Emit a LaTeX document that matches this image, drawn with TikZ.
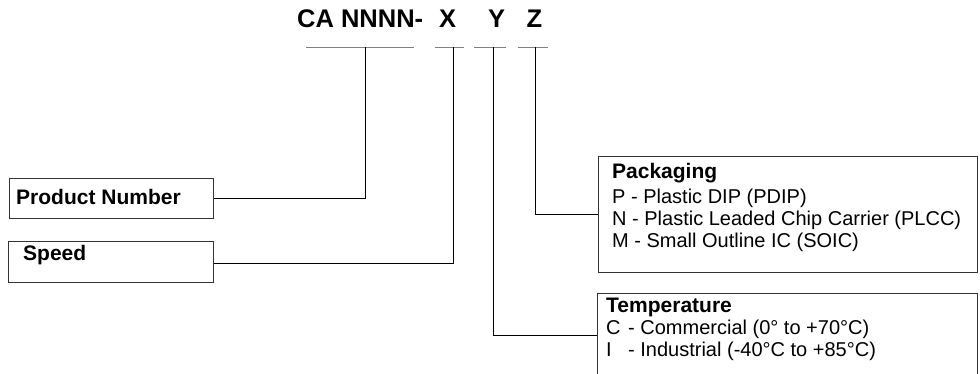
\documentclass[tikz,border=0pt]{standalone}
\usepackage{fontspec}
\setmainfont{Liberation Sans}
\begin{document}
\begin{tikzpicture}[x=1pt,y=-1pt,
  box/.style={draw=black!80,line width=0.9pt,rectangle,inner sep=0pt,anchor=north west},
  uline/.style={draw=black!50,line width=1pt},
  conn/.style={draw=black,line width=0.8pt},
  title/.style={inner sep=0pt,font=\bfseries\fontsize{25.5}{28}\selectfont},
  lab/.style={inner sep=0pt,anchor=base west,font=\bfseries\fontsize{21}{24}\selectfont},
  txt/.style={inner sep=0pt,anchor=base west,font=\fontsize{20}{22}\selectfont}]
\useasboundingbox (0,0) rectangle (980,373);
% title
\node[title,anchor=base west] (tcode) at (297,27) {CA NNNN-};
\node[title,anchor=base] (tx) at (447.5,27) {X};
\node[title,anchor=base] (ty) at (496.5,27) {Y};
\node[title,anchor=base] (tz) at (534.5,27) {Z};
% underlines
\coordinate (ua) at (306,47); \coordinate (ub) at (414,47);
\coordinate (xa) at (435,47); \coordinate (xb) at (464,47);
\coordinate (ya) at (474,47); \coordinate (yb) at (506,47);
\coordinate (za) at (518,47); \coordinate (zb) at (548,47);
\draw[uline] (ua) -- (ub);
\draw[uline] (xa) -- (xb);
\draw[uline] (ya) -- (yb);
\draw[uline] (za) -- (zb);
\coordinate (nt) at (365,47);
\coordinate (xt) at (453,47);
\coordinate (yt) at (493,47);
\coordinate (zt) at (535,47);
% boxes
\node[box,minimum width=204pt,minimum height=40pt] (prod) at (9,178) {};
\node[box,minimum width=205pt,minimum height=41pt] (speed) at (8,241) {};
\node[box,minimum width=379pt,minimum height=116pt] (pkg) at (598,156) {};
\node[box,minimum width=380pt,minimum height=84pt] (temp) at (597,293) {};
% texts
\node[lab] (tprod) at (16,204) {Product Number};
\node[lab] (tspeed) at (23,260.5) {Speed};
\node[lab] (tpkg) at (612,178.5) {Packaging};
\node[txt] (p1) at (612,203) {P - Plastic DIP (PDIP)};
\node[txt] (p2) at (612,225) {N - Plastic Leaded Chip Carrier (PLCC)};
\node[txt] (p3) at (612,247) {M - Small Outline IC (SOIC)};
\node[lab] (ttemp) at (606,312) {Temperature};
\node[txt] (c1) at (606,334) {C};
\node[txt] (c2) at (628,334) {- Commercial (0° to +70°C)};
\node[txt] (i1) at (606,356) {I};
\node[txt] (i2) at (628,356) {- Industrial (-40°C to +85°C)};
% connectors
\draw[conn] (prod.east) -| (nt);
\draw[conn] ([yshift=-1.5pt]speed.east) -| (xt);
\draw[conn] (yt) |- (temp.west);
\draw[conn] (zt) |- (pkg.west);
\end{tikzpicture}
\end{document}
